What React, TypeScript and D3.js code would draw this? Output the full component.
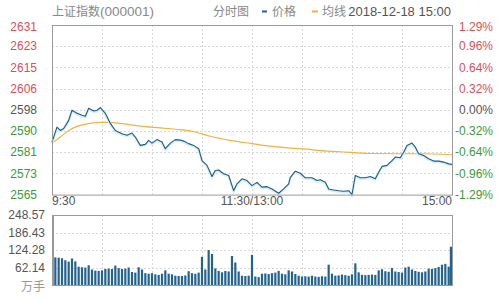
import React from "react";
import * as d3 from "d3";

// ---- data ----
const titleName = "上证指数";
const titleCode = "(000001)";
const chartType = "分时图";
const legendPrice = "价格";
const legendAvg = "均线";
const dateLabel = "2018-12-18 15:00";
const volUnit = "万手";

const prevClose = 2597.97;
const pctRange = 0.0129;

const priceTickLabels = ["2631", "2623", "2615", "2606", "2598", "2590", "2581", "2573", "2565"];
const pctTickLabels = ["1.29%", "0.96%", "0.64%", "0.32%", "0.00%", "-0.32%", "-0.64%", "-0.96%", "-1.29%"];
const volTickLabels = ["248.57", "186.43", "124.28", "62.14"];
const volMax = 248.57;
const timeLabels = ["9:30", "11:30/13:00", "15:00"];
const timeLabelMinutes = [0, 120, 240];
const totalMinutes = 240;

const priceMinutes = [
  0, 1, 3, 5, 7, 10, 12, 15, 18, 20, 22, 25, 27, 29, 32, 35, 38, 42, 45, 48, 50, 53, 56, 58, 60, 63, 66, 68, 71, 74,
  77, 79, 82, 85, 88, 90, 93, 96, 98, 100, 103, 106, 109, 111, 114, 117, 120, 123, 126, 129, 132, 136, 139, 142, 143,
  146, 149, 152, 156, 159, 161, 164, 166, 169, 172, 175, 178, 180, 182, 185, 188, 191, 194, 196, 198, 201, 204, 206,
  209, 211, 213, 216, 218, 220, 223, 226, 229, 232, 235, 238, 240,
];
const priceValues = [
  2585.2, 2587.2, 2591.1, 2589.8, 2590.6, 2593.8, 2597.8, 2596.6, 2595.8, 2595.4, 2598.6, 2597.5, 2597.8, 2598.8,
  2596.6, 2592.6, 2589.8, 2588.5, 2587.9, 2588.8, 2587.2, 2583.9, 2584.3, 2585.9, 2584.8, 2586.2, 2585.2, 2582.6,
  2584.8, 2586.2, 2586.0, 2585.6, 2584.6, 2583.9, 2582.6, 2577.9, 2576.0, 2571.6, 2574.0, 2574.2, 2572.7, 2572.0,
  2566.0, 2568.7, 2570.7, 2570.0, 2568.0, 2569.3, 2567.4, 2567.6, 2566.7, 2565.0, 2566.7, 2568.7, 2571.3, 2573.7,
  2572.9, 2571.1, 2571.1, 2570.0, 2570.3, 2569.3, 2566.7, 2566.3, 2566.0, 2565.8, 2566.0, 2564.5, 2572.0, 2571.1,
  2571.1, 2571.6, 2570.7, 2573.3, 2575.6, 2576.0, 2577.9, 2579.3, 2579.0, 2581.2, 2583.9, 2584.8, 2583.2, 2580.6,
  2579.9, 2578.6, 2577.7, 2577.7, 2577.3, 2576.6, 2576.4,
];

const avgMinutes = [0, 5, 11, 17, 23, 29, 34, 41, 53, 65, 77, 86, 95, 107, 119, 131, 143, 155, 158, 173, 191, 209, 221, 240];
const avgValues = [
  2584.7, 2587.2, 2590.2, 2591.8, 2592.6, 2593.0, 2593.0, 2592.6, 2591.5, 2590.8, 2590.1, 2589.2, 2587.5, 2585.9,
  2584.7, 2583.6, 2582.8, 2582.3, 2582.0, 2581.4, 2580.7, 2580.6, 2580.6, 2580.2,
];

// volume, one bar every 2 minutes (万手)
const volStep = 2;
const volumeValues = [
  248.57, 98, 97, 95, 88, 83, 94, 84, 65, 63, 62, 70, 55, 51, 50, 52, 57, 58, 57, 69, 60, 57, 58, 62, 46, 44, 63, 55,
  42, 40, 42, 38, 36, 40, 52, 40, 38, 33, 32, 32, 34, 49, 42, 40, 44, 100, 55, 124, 110, 59, 50, 45, 50, 48, 103, 80,
  48, 33, 32, 33, 107, 30, 28, 40, 41, 39, 42, 44, 50, 40, 38, 52, 48, 39, 33, 30, 31, 30, 33, 30, 29, 31, 30, 72, 40,
  33, 34, 37, 35, 33, 38, 77, 45, 36, 35, 36, 37, 36, 52, 56, 49, 47, 60, 48, 46, 44, 62, 65, 55, 50, 47, 45, 48, 58,
  57, 60, 64, 72, 75, 65, 0, 136,
];

// ---- layout ----
const W = 501;
const H = 301;
const left = 52;
const right = 452;
const pTop = 25;
const pBottom = 194.6;
const vTop = 215;
const vBottom = 285;

const FONT = "'Liberation Sans', Arial, sans-serif";
const CJK = "'Noto Sans CJK SC', 'Liberation Sans', sans-serif";
const RED = "#dc4f57";
const GREEN = "#3a9a3a";
const DARK = "#555";
const GRID = "#d8d8d8";
const FRAME = "#9a9a9a";
const BLUE = "#1e5b86";
const BAR = "#24628f";
const ORANGE = "#f2b33d";

export default function App() {
  const x = d3.scaleLinear().domain([0, totalMinutes]).range([left, right]);
  const lo = prevClose * (1 - pctRange);
  const hi = prevClose * (1 + pctRange);
  const y = d3.scaleLinear().domain([lo, hi]).range([pBottom, pTop]);
  const yv = d3.scaleLinear().domain([0, volMax]).range([vBottom, vTop]);

  const nP = priceTickLabels.length - 1;
  const priceTickVals = priceTickLabels.map((_, i) => hi - ((hi - lo) * i) / nP);
  const nV = volTickLabels.length;
  const volTickVals = d3.range(nV + 1).map((i) => volMax - (volMax * i) / nV);

  const priceLine = d3
    .line<number>()
    .x((_, i) => x(priceMinutes[i]))
    .y((d) => y(d))
    .curve(d3.curveLinear);
  const avgLine = d3
    .line<number>()
    .x((_, i) => x(avgMinutes[i]))
    .y((d) => y(d))
    .curve(d3.curveMonotoneX);

  const vGridX = d3.range(1, 8).map((i) => x(i * 30));

  const labelColor = (i: number) => (i < 4 ? RED : i === 4 ? DARK : GREEN);

  return (
    <svg width={W} height={H} style={{ position: "absolute", left: 0, top: 0, background: "#fff" }}>
      {/* header */}
      <text x={52} y={16} fill="#888">
        <tspan fontFamily={CJK} fontSize={12}>{titleName}</tspan>
        <tspan fontFamily={FONT} fontSize={13.5}>{titleCode}</tspan>
      </text>
      <text x={213} y={16} fontFamily={CJK} fontSize={12} fill="#888">
        {chartType}
      </text>
      <line x1={262} x2={267} y1={11.5} y2={11.5} stroke={BAR} strokeWidth={2} />
      <text x={272} y={16} fontFamily={CJK} fontSize={12} fill="#888">
        {legendPrice}
      </text>
      <line x1={312} x2={318} y1={11.5} y2={11.5} stroke={ORANGE} strokeWidth={2} />
      <text x={322} y={16} fontFamily={CJK} fontSize={12} fill="#888">
        {legendAvg}
      </text>
      <text x={451} y={16} textAnchor="end" fontFamily={FONT} fontSize={13} fill={DARK}>
        {dateLabel}
      </text>

      {/* price grid */}
      {priceTickVals.slice(1, -1).map((v, i) => (
        <line key={"hg" + i} x1={left} x2={right} y1={Math.round(y(v)) + 0.5} y2={Math.round(y(v)) + 0.5} stroke={GRID} strokeDasharray="2,2" />
      ))}
      {vGridX.map((gx, i) => (
        <line key={"vg" + i} x1={Math.round(gx) + 0.5} x2={Math.round(gx) + 0.5} y1={pTop} y2={pBottom} stroke={GRID} strokeDasharray="2,2" />
      ))}

      {/* price labels */}
      {priceTickVals.map((v, i) => (
        <text
          key={"pl" + i}
          x={37}
          y={y(v) + (i === 0 ? 3 : 1)}
          dominantBaseline="middle"
          textAnchor="end"
          fontFamily={FONT}
          fontSize={12}
          fill={labelColor(i)}
        >
          {priceTickLabels[i]}
        </text>
      ))}
      {priceTickVals.map((v, i) => (
        <text
          key={"pc" + i}
          x={493}
          y={y(v) + (i === 0 ? 3 : 1)}
          dominantBaseline="middle"
          textAnchor="end"
          fontFamily={FONT}
          fontSize={12}
          fill={labelColor(i)}
        >
          {pctTickLabels[i]}
        </text>
      ))}

      {/* lines */}
      <path d={avgLine(avgValues) || ""} fill="none" stroke={ORANGE} strokeWidth={1.2} />
      <path d={priceLine(priceValues) || ""} fill="none" stroke="#d6eff9" strokeWidth={2.5} transform="translate(0,1)" />
      <path d={priceLine(priceValues) || ""} fill="none" stroke={BLUE} strokeWidth={1.1} strokeLinejoin="round" />

      {/* price frame */}
      <rect x={left + 0.5} y={pTop + 0.5} width={right - left} height={pBottom - pTop} fill="none" stroke={FRAME} />

      {/* time labels */}
      {timeLabels.map((t, i) => (
        <text
          key={"tl" + i}
          x={x(timeLabelMinutes[i])}
          y={205}
          textAnchor={i === 0 ? "start" : i === 1 ? "middle" : "end"}
          fontFamily={FONT}
          fontSize={12}
          fill={DARK}
        >
          {t}
        </text>
      ))}

      {/* volume grid */}
      {volTickVals.slice(1, -1).map((v, i) => (
        <line key={"vh" + i} x1={left} x2={right} y1={Math.round(yv(v)) + 0.5} y2={Math.round(yv(v)) + 0.5} stroke={GRID} strokeDasharray="2,2" />
      ))}
      {vGridX.map((gx, i) => (
        <line key={"vv" + i} x1={Math.round(gx) + 0.5} x2={Math.round(gx) + 0.5} y1={vTop} y2={vBottom} stroke={GRID} strokeDasharray="2,2" />
      ))}

      {/* volume bars */}
      {volumeValues.map((v, i) => (
        <rect
          key={"b" + i}
          x={i === 0 ? x(0) : Math.min(x(i * volStep) - 1.1, right - 2.2)}
          y={yv(v)}
          width={i === 0 ? 1.6 : 2.2}
          height={vBottom - yv(v)}
          fill={BAR}
        />
      ))}

      {/* volume labels */}
      {volTickLabels.map((t, i) => (
        <text
          key={"vl" + i}
          x={45}
          y={yv(volTickVals[i]) + 1}
          dominantBaseline="middle"
          textAnchor="end"
          fontFamily={FONT}
          fontSize={12}
          fill={DARK}
        >
          {t}
        </text>
      ))}
      <text x={45} y={288} dominantBaseline="middle" textAnchor="end" fontFamily={CJK} fontSize={12} fill="#999">
        {volUnit}
      </text>

      {/* volume frame */}
      <rect x={left + 0.5} y={vTop + 0.5} width={right - left} height={vBottom - vTop} fill="none" stroke={FRAME} />
    </svg>
  );
}
